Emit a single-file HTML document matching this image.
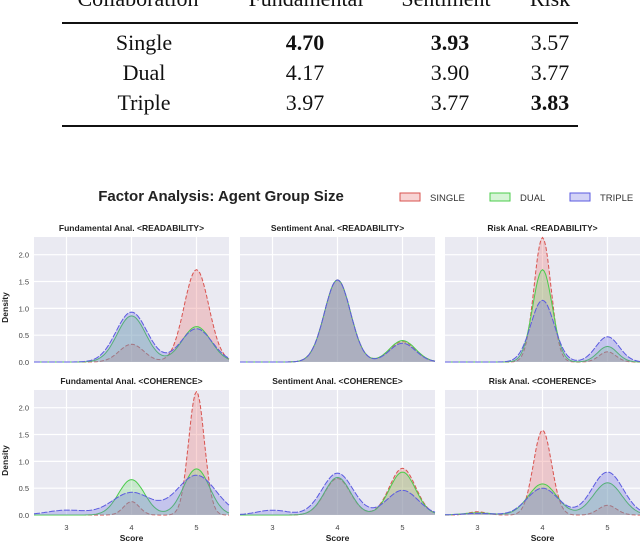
<!DOCTYPE html>
<html><head><meta charset="utf-8"><style>
body{margin:0;background:#fff;width:640px;height:542px;overflow:hidden;position:relative;font-family:"Liberation Serif",serif}
.t{position:absolute;font-size:22px;color:#111;transform:translateX(-50%);white-space:nowrap}
.rule{position:absolute;left:62px;width:516px;height:2px;background:#111}
</style></head><body>
<div>
<div class="t" style="left:138px;top:-14px">Collaboration</div>
<div class="t" style="left:306px;top:-14px">Fundamental</div>
<div class="t" style="left:446px;top:-14px">Sentiment</div>
<div class="t" style="left:550px;top:-14px">Risk</div>
<div class="rule" style="top:22px"></div>
<div class="t" style="left:144px;top:30px">Single</div>
<div class="t" style="left:305px;top:30px;font-weight:bold">4.70</div>
<div class="t" style="left:450px;top:30px;font-weight:bold">3.93</div>
<div class="t" style="left:550px;top:30px">3.57</div>
<div class="t" style="left:144px;top:60px">Dual</div>
<div class="t" style="left:305px;top:60px">4.17</div>
<div class="t" style="left:450px;top:60px">3.90</div>
<div class="t" style="left:550px;top:60px">3.77</div>
<div class="t" style="left:144px;top:90px">Triple</div>
<div class="t" style="left:305px;top:90px">3.97</div>
<div class="t" style="left:450px;top:90px">3.77</div>
<div class="t" style="left:550px;top:90px;font-weight:bold">3.83</div>
<div class="rule" style="top:125px"></div>
</div>
<svg id="c" width="640" height="542" style="position:absolute;left:0;top:0" font-family="Liberation Sans, DejaVu Sans, sans-serif"></svg>
<script>
// categories
const seriesNames = ["SINGLE","DUAL","TRIPLE"];
const panelTitles = ["Fundamental Anal. <READABILITY>","Sentiment Anal. <READABILITY>","Risk Anal. <READABILITY>",
 "Fundamental Anal. <COHERENCE>","Sentiment Anal. <COHERENCE>","Risk Anal. <COHERENCE>"];
const scoreCenters = [3,4,5];
// peak heights at scores 3,4,5 per panel: [SINGLE, DUAL, TRIPLE]
const peaks0 = [[0,0.33,1.72],[0,0.86,0.66],[0,0.93,0.62]];
const peaks1 = [[0,1.53,0.38],[0,1.53,0.40],[0,1.53,0.35]];
const peaks2 = [[0,2.32,0.19],[0,1.72,0.29],[0,1.15,0.47]];
const peaks3 = [[0,0.25,2.3],[0,0.66,0.86],[0.09,0.42,0.74]];
const peaks4 = [[0,0.68,0.87],[0,0.70,0.80],[0.09,0.78,0.46]];
const peaks5 = [[0.06,1.58,0.18],[0.04,0.58,0.60],[0.03,0.5,0.8]];
// kernel widths per panel per series
const widths0 = [0.19,0.22,0.24];
const widths1 = [0.2,0.2,0.2];
const widths2 = [0.13,0.15,0.18];
const widths3 = [0.12,0.2,0.3];
const widths4 = [0.2,0.2,0.24];
const widths5 = [0.14,0.22,0.24];
const yTicks = [0,0.5,1.0,1.5,2.0];
const xTicks = [3,4,5];

const peaks=[peaks0,peaks1,peaks2,peaks3,peaks4,peaks5];
const widths=[widths0,widths1,widths2,widths3,widths4,widths5];
const NS="http://www.w3.org/2000/svg";
const svg=document.getElementById('c');
function mk(t,a,p){const e=document.createElementNS(NS,t);for(const k in a)e.setAttribute(k,a[k]);(p||svg).appendChild(e);return e;}
const stroke=["#d9534f","#4ccc4c","#5b5be0"], fill=["rgba(232,120,120,0.32)","rgba(120,220,120,0.30)","rgba(110,110,225,0.30)"];
const dash=["4,2","","6,1.5"];
const colX=[34,240,445], rowY=[[237,362],[390,515]], pw=195;
let tt=mk('text',{x:221,y:201,'text-anchor':'middle','font-size':15,'font-weight':'bold',fill:'#222'});tt.textContent="Factor Analysis: Agent Group Size";


const legX=[400,490,570];
seriesNames.forEach((n,i)=>{
 const g=mk('g',{});
 
 
 mk('rect',{x:legX[i],y:193,width:20,height:8,fill:fill[i],stroke:stroke[i]},g);
 const t=mk('text',{x:legX[i]+30,y:201,'font-size':9.5,fill:'#333'},g);t.textContent=n;
});
function dens(p,w,x){let s=0;for(let k=0;k<3;k++)s+=p[k]*Math.exp(-((x-scoreCenters[k])**2)/(2*w*w));return s;}
for(let pi=0;pi<6;pi++){
 const r=Math.floor(pi/3),c=pi%3;
 const x0=colX[c],y0=rowY[r][0],y1=rowY[r][1];
 const g=mk('g',{});
 
 
 const unit=(y1-y0)/2.33;
 const X=v=>x0+(v-2.5)/3*pw, Y=v=>y1-v*unit;
 mk('rect',{x:x0,y:y0,width:pw,height:y1-y0,fill:'#eaeaf2'},g);
 yTicks.forEach(v=>{mk('line',{x1:x0,x2:x0+pw,y1:Y(v),y2:Y(v),stroke:'#fff','stroke-width':1.2},g);
  if(c==0){const t=mk('text',{x:x0-5,y:Y(v)+3,'text-anchor':'end','font-size':7.5,fill:'#444'},g);t.textContent=v.toFixed(1);}});
 xTicks.forEach(v=>{mk('line',{x1:X(v),x2:X(v),y1:y0,y2:y1,stroke:'#fff','stroke-width':1.2},g);
  if(r==1){const t=mk('text',{x:X(v),y:y1+15,'text-anchor':'middle','font-size':7.5,fill:'#444'},g);t.textContent=v;}});
 const ti=mk('text',{x:x0+pw/2,y:y0-6,'text-anchor':'middle','font-size':8.5,'font-weight':'bold',fill:'#222'},g);ti.textContent=panelTitles[pi];
 if(r==1){const s=mk('text',{x:x0+pw/2,y:y1+26,'text-anchor':'middle','font-size':8.5,'font-weight':'bold',fill:'#222'},g);s.textContent="Score";}
 if(c==0){const s=mk('text',{x:8,y:(y0+y1)/2+8,'text-anchor':'middle','font-size':8.5,'font-weight':'bold',fill:'#222',transform:`rotate(-90 8 ${(y0+y1)/2+8})`},g);s.textContent="Density";}
 for(let si=0;si<3;si++){
  let pts=[];for(let i=0;i<=120;i++){const v=2.5+3*i/120;pts.push(X(v).toFixed(1)+','+Y(dens(peaks[pi][si],widths[pi][si],v)).toFixed(1));}
  const a=mk('polygon',{points:X(2.5)+','+y1+' '+pts.join(' ')+' '+X(5.5)+','+y1,fill:fill[si],stroke:'none'},g);
  
  
  const l=mk('polyline',{points:pts.join(' '),fill:'none',stroke:stroke[si],'stroke-width':1,'stroke-dasharray':dash[si]},g);
  
  
 }
}
</script>
</body></html>
